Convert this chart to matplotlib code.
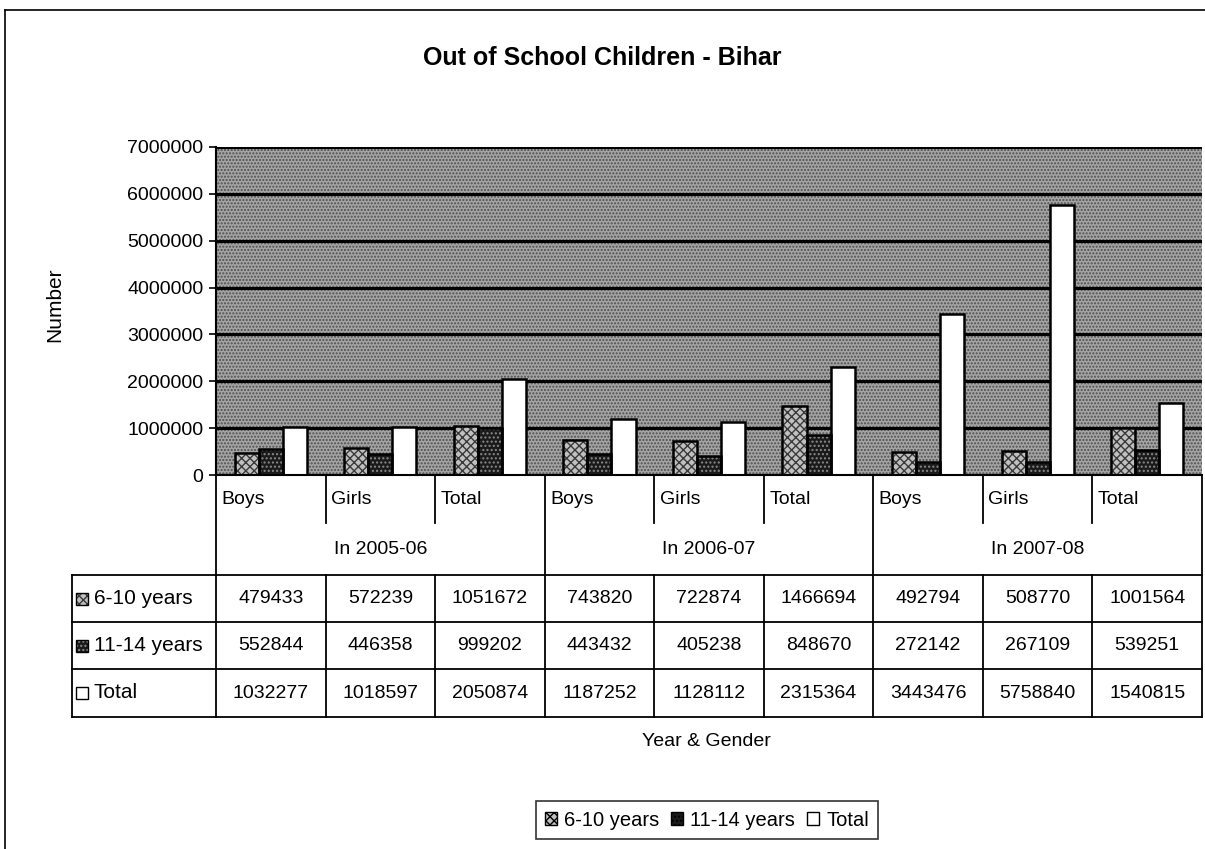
import matplotlib
matplotlib.use("Agg")
import matplotlib.pyplot as plt
from matplotlib.patches import Rectangle, Patch
from matplotlib.lines import Line2D
from matplotlib.ticker import FuncFormatter
import numpy as np

plt.rcParams['font.family'] = ['Liberation Sans', 'DejaVu Sans']
plt.rcParams['hatch.linewidth'] = 1.0

# ---------------- data ----------------
genders = ["Boys", "Girls", "Total"]
years = ["In 2005-06", "In 2006-07", "In 2007-08"]
series_names = ["6-10 years", "11-14 years", "Total"]
age_6_10 = [479433, 572239, 1051672, 743820, 722874, 1466694, 492794, 508770, 1001564]
age_11_14 = [552844, 446358, 999202, 443432, 405238, 848670, 272142, 267109, 539251]
total = [1032277, 1018597, 2050874, 1187252, 1128112, 2315364, 3443476, 5758840, 1540815]
y_ticks = [0, 1000000, 2000000, 3000000, 4000000, 5000000, 6000000, 7000000]

title = "Out of School Children - Bihar"
y_label = "Number"
x_label = "Year & Gender"

# ---------------- styles ----------------
styles = [
    dict(fc='#c0c0c0', hatch='xxxx', hc='#3a3a3a'),
    dict(fc='#1a1a1a', hatch='....', hc='#8a8a8a'),
    dict(fc='white', hatch=None, hc='white'),
]

W, H = 1205, 849
fig = plt.figure(figsize=(W / 100, H / 100), dpi=100)


def fx(px):
    return px / W


def fy(py):
    return 1 - py / H


left_px, right_px, top_px, bot_px = 216, 1202, 147, 475
ax = fig.add_axes([fx(left_px), fy(bot_px), (right_px - left_px) / W, (bot_px - top_px) / H])

n = len(age_6_10)
x = np.arange(n)
ax.set_xlim(-0.5, n - 0.5)
ax.set_ylim(y_ticks[0], y_ticks[-1])

# patterned background
ax.set_facecolor('#a4a4a4')
ax.add_patch(Rectangle((0, 0), 1, 1, transform=ax.transAxes, facecolor='none',
                       edgecolor='#4e4e4e', hatch='.....', lw=0, zorder=0))
ax.set_axisbelow(True)
ax.yaxis.grid(True, color='black', lw=2.2)

bw = 0.22
for i, (vals, st) in enumerate(zip([age_6_10, age_11_14, total], styles)):
    xs = x + (i - 1) * bw
    ax.bar(xs, vals, bw, color=st['fc'], edgecolor=st['hc'], hatch=st['hatch'], lw=0, zorder=2)
    ax.bar(xs, vals, bw, fill=False, edgecolor='black', lw=1.8, zorder=3)

ax.set_yticks(y_ticks)
ax.yaxis.set_major_formatter(FuncFormatter(lambda v, p: f"{int(v)}"))
ax.tick_params(axis='y', labelsize=14, length=5, width=1.2, pad=4)
ax.set_xticks([])
for s in ['top', 'right']:
    ax.spines[s].set_visible(False)
ax.spines['left'].set_linewidth(1.5)
ax.spines['bottom'].set_linewidth(1.5)

# ---------------- table below ----------------
colw = (right_px - left_px) / n
tab_left_px, tab_bot_px = 72, 717
tab = fig.add_axes([fx(tab_left_px), fy(tab_bot_px), (right_px - tab_left_px) / W,
                    (tab_bot_px - bot_px) / H])
xl = -0.5 - (left_px - tab_left_px) / colw
tab.set_xlim(xl, n - 0.5)
tab.set_ylim(tab_bot_px - bot_px, 0)
tab.axis('off')

lk = dict(color='black', lw=1.3, clip_on=False)
hdr_sep, hdr_bot = 48, 100
row_edges = [100, 147, 194, 242]

# header separators
for b in range(1, n):
    if b % 3 == 0:
        tab.plot([b - 0.5, b - 0.5], [0, row_edges[-1]], **lk)
    else:
        tab.plot([b - 0.5, b - 0.5], [0, hdr_sep], **lk)
        tab.plot([b - 0.5, b - 0.5], [hdr_bot, row_edges[-1]], **lk)
tab.plot([-0.5, -0.5], [0, row_edges[-1]], **lk)
tab.plot([n - 0.5, n - 0.5], [0, row_edges[-1]], **lk)
tab.plot([xl, xl], [row_edges[0], row_edges[-1]], **lk)
for e in row_edges:
    tab.plot([xl, n - 0.5], [e, e], **lk)

fs = 14
for i in range(n):
    tab.text(i - 0.5 + 0.05, 24, genders[i % 3], ha='left', va='center', fontsize=fs)
for g, yr in enumerate(years):
    tab.text(3 * g + 1, 75, yr, ha='center', va='center', fontsize=fs)

sq_w = 12 / colw
for r, (vals, name, st) in enumerate(zip([age_6_10, age_11_14, total], series_names, styles)):
    yc = (row_edges[r] + row_edges[r + 1]) / 2
    for i, v in enumerate(vals):
        tab.text(i, yc, str(v), ha='center', va='center', fontsize=fs)
    tab.add_patch(Rectangle((xl + 0.04, yc - 6), sq_w, 12, facecolor=st['fc'], edgecolor=st['hc'],
                            hatch=st['hatch'], lw=0, clip_on=False))
    tab.add_patch(Rectangle((xl + 0.04, yc - 6), sq_w, 12, fill=False, edgecolor='black',
                            lw=1.0, clip_on=False))
    tab.text(xl + 0.2, yc, name, ha='left', va='center', fontsize=15)

# ---------------- texts ----------------
fig.text(fx(602), fy(58), title, ha='center', va='center', fontsize=18, fontweight='bold',
         family=['Liberation Sans Narrow', 'Liberation Sans', 'DejaVu Sans'])
fig.text(fx(55), fy(305), y_label, ha='center', va='center', rotation=90, fontsize=15)
fig.text(fx(706), fy(742), x_label, ha='center', va='center', fontsize=14)

handles = [Patch(facecolor=st['fc'], edgecolor='black', hatch=st['hatch'], lw=1.0)
           for st in styles]
leg = fig.legend(handles, series_names, loc='center', bbox_to_anchor=(fx(707), fy(820)),
                 ncol=3, fontsize=14.5, frameon=True, fancybox=False, handlelength=0.6,
                 handleheight=0.6, handletextpad=0.35, columnspacing=0.6, borderpad=0.45,
                 edgecolor='black')
leg.get_frame().set_linewidth(1.2)

# outer border
fig.add_artist(Line2D([fx(5), fx(1205)], [fy(10), fy(10)], color='black', lw=1.2))
fig.add_artist(Line2D([fx(5), fx(5)], [fy(10), fy(849)], color='black', lw=1.2))

fig.savefig("out.png", dpi=100, facecolor='white')
